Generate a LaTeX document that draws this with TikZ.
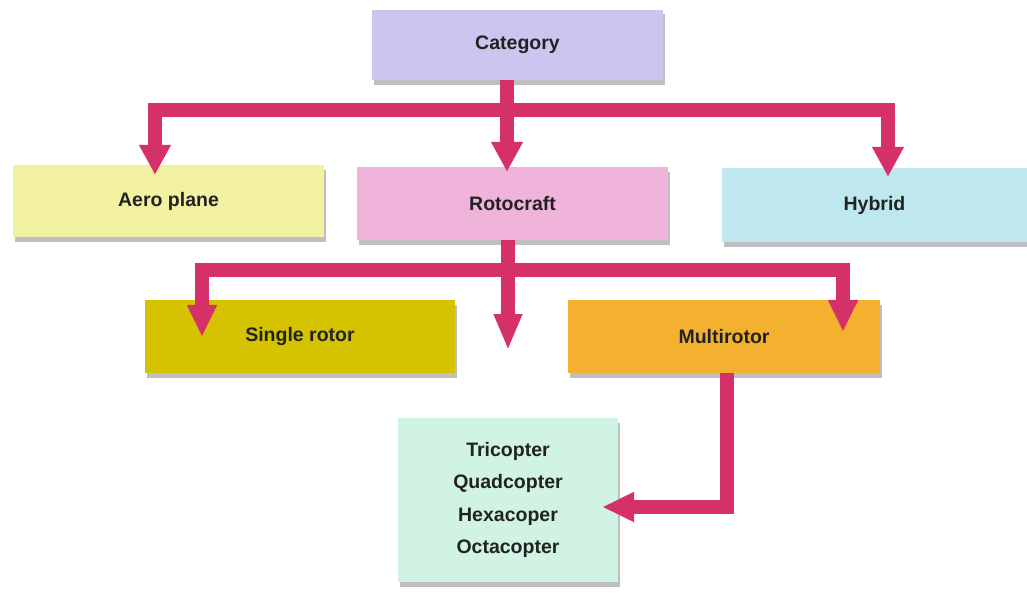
\documentclass[tikz,border=0pt]{standalone}
\usepackage{fontspec}
\setmainfont{Liberation Sans}
\usetikzlibrary{arrows.meta,shadows,calc}
\definecolor{arrowc}{HTML}{D6306A}
\definecolor{catc}{HTML}{CBC5EF}
\definecolor{aeroc}{HTML}{F2F1A2}
\definecolor{rotc}{HTML}{F0B4DB}
\definecolor{hybc}{HTML}{BEE8EE}
\definecolor{singc}{HTML}{D5C300}
\definecolor{multc}{HTML}{F4B12F}
\definecolor{typc}{HTML}{D0F3E3}
\definecolor{txtc}{HTML}{222222}
\begin{document}
\begin{tikzpicture}[x=1pt,y=-1pt,
  box/.style={draw=none,inner sep=0pt,text=txtc,font=\fontsize{19.5}{32.5}\selectfont\bfseries,
    drop shadow={shadow xshift=1.5pt,shadow yshift=-4.5pt,fill=black!50}},
  conn/.style={draw=arrowc,line width=13.5pt,line join=miter,
    -{Triangle[width=30pt,length=30pt]}}]
\useasboundingbox (0,0) rectangle (1027,594);
\node[box,fill=catc,minimum width=291pt,minimum height=70pt] (cat) at (517.5,45) {Category};
\node[box,fill=aeroc,minimum width=311pt,minimum height=72pt] (aero) at (168.5,201) {Aero plane};
\node[box,fill=rotc,minimum width=311pt,minimum height=73pt] (rot) at (512.5,203.5) {Rotocraft};
\node[box,fill=hybc,minimum width=305pt,minimum height=74pt] (hyb) at (874.5,205) {Hybrid};
\node[box,fill=singc,minimum width=310pt,minimum height=73pt] (sing) at (300,336.5) {Single rotor};
\node[box,fill=multc,minimum width=312pt,minimum height=73pt] (mult) at (724,336.5) {Multirotor};
\node[box,fill=typc,minimum width=220pt,minimum height=164pt,align=center] (typ) at (508,500)
  {Tricopter\\Quadcopter\\Hexacoper\\Octacopter};
% level 1 connectors
\draw[conn] ($(cat.south)+(-10.5,0)$) -- ++(0,30) -| ($(aero.north)+(-13.5,10)$);
\draw[conn] ($(cat.south)+(-10.5,0)$) -- ++(0,30) -| ($(hyb.north)+(13.5,9)$);
\draw[conn] ($(cat.south)+(-10.5,0)$) -- ($(rot.north)+(-5.5,5)$);
% level 2 connectors
\coordinate (mid) at ($(rot.south)+(-4.5,110)$);
\draw[conn,-{Triangle[width=28pt,length=32pt]}] ($(rot.south)+(-4.5,0)$) -- ++(0,30) -| ($(sing.north)+(-98,37)$);
\draw[conn,-{Triangle[width=28pt,length=32pt]}] ($(rot.south)+(-4.5,0)$) -- ++(0,30) -| ($(mult.north)+(119,32)$);
\draw[conn,-{Triangle[width=26pt,length=36pt]}] ($(rot.south)+(-4.5,0)$) -- (mid);
% level 3 connector
\draw[conn,-{Triangle[width=28pt,length=32pt]}] ($(mult.south)+(3,0)$) |- ($(typ.east)+(-16,7)$);
\end{tikzpicture}
\end{document}
